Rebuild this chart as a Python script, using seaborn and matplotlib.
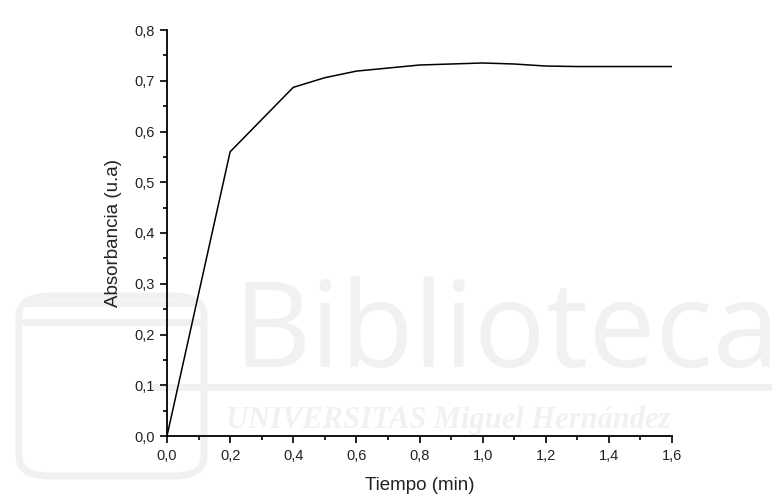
import matplotlib
matplotlib.use("Agg")
import matplotlib.pyplot as plt
import matplotlib.ticker as mticker
from matplotlib.patches import FancyBboxPatch
import seaborn as sns
import pandas as pd

# Kinetic absorbance readings
tiempo = [0.0, 0.2, 0.4, 0.5, 0.6, 0.7, 0.8, 0.9, 1.0, 1.1, 1.2, 1.3, 1.4, 1.5, 1.6]
absorbancia = [0.0, 0.560, 0.687, 0.706, 0.719, 0.725, 0.731, 0.733, 0.735, 0.733,
               0.729, 0.728, 0.728, 0.728, 0.728]

x_ticks = [0.0, 0.2, 0.4, 0.6, 0.8, 1.0, 1.2, 1.4, 1.6]
y_ticks = [0.0, 0.1, 0.2, 0.3, 0.4, 0.5, 0.6, 0.7, 0.8]

df = pd.DataFrame({"Tiempo": tiempo, "Absorbancia": absorbancia})

sns.set_style("ticks")
plt.rcParams["font.family"] = ["Liberation Sans", "DejaVu Sans"]

W, H = 772, 498
fig = plt.figure(figsize=(W / 100, H / 100), dpi=100)
fig.patch.set_facecolor("white")

# Library watermark in the background
wm = "#f1f1f1"
fig.add_artist(FancyBboxPatch((19 / W, 1 - 476 / H), 185 / W, 180 / H,
                              boxstyle="round,pad=0,rounding_size=0.04",
                              transform=fig.transFigure, fill=False,
                              ec=wm, lw=5, zorder=0))
for yb in (303, 322):
    fig.add_artist(plt.Line2D([25 / W, 200 / W], [1 - yb / H] * 2, color=wm, lw=5, zorder=0))
fig.text(233 / W, 1 - 367 / H, "Biblioteca", fontsize=86, color=wm, ha="left",
         va="baseline", zorder=0, family="Open Sans")
fig.add_artist(plt.Line2D([153 / W, 1.0], [1 - 387 / H] * 2, color=wm, lw=5, zorder=0))
fig.text(226 / W, 1 - 428 / H, "UNIVERSITAS Miguel Hernández", fontsize=22, color=wm,
         ha="left", va="baseline", zorder=0, fontweight="bold", fontstyle="italic",
         family="Liberation Serif")

ax = fig.add_axes([167 / W, 1 - 436 / H, 505 / W, 406 / H])
ax.patch.set_alpha(0)

sns.lineplot(data=df, x="Tiempo", y="Absorbancia", ax=ax, color="black", lw=1.1)

ax.set_xlim(0, 1.6)
ax.set_ylim(0, 0.8)
ax.set_xticks(x_ticks)
ax.set_yticks(y_ticks)
ax.xaxis.set_minor_locator(mticker.MultipleLocator(0.1))
ax.yaxis.set_minor_locator(mticker.MultipleLocator(0.05))
fmt = mticker.FuncFormatter(lambda v, p: f"{v:.1f}".replace(".", ","))
ax.xaxis.set_major_formatter(fmt)
ax.yaxis.set_major_formatter(fmt)

for s in ["top", "right"]:
    ax.spines[s].set_visible(False)
for s in ["left", "bottom"]:
    ax.spines[s].set_linewidth(1.3)
    ax.spines[s].set_color("black")

ax.tick_params(which="major", direction="out", length=5, width=1.2, labelsize=10.5,
               colors="black", labelcolor="#222222", pad=4)
ax.tick_params(which="minor", direction="out", length=3, width=1.2, colors="black")

ax.set_xlabel("Tiempo (min)", fontsize=13.5, color="#222222", va="top")
ax.set_ylabel("Absorbancia (u.a)", fontsize=13.5, color="#222222")
ax.xaxis.set_label_coords(0.5, -0.101)
ax.yaxis.set_label_coords(-0.09, 0.5)

fig.savefig("out.png", dpi=100, facecolor="white")
